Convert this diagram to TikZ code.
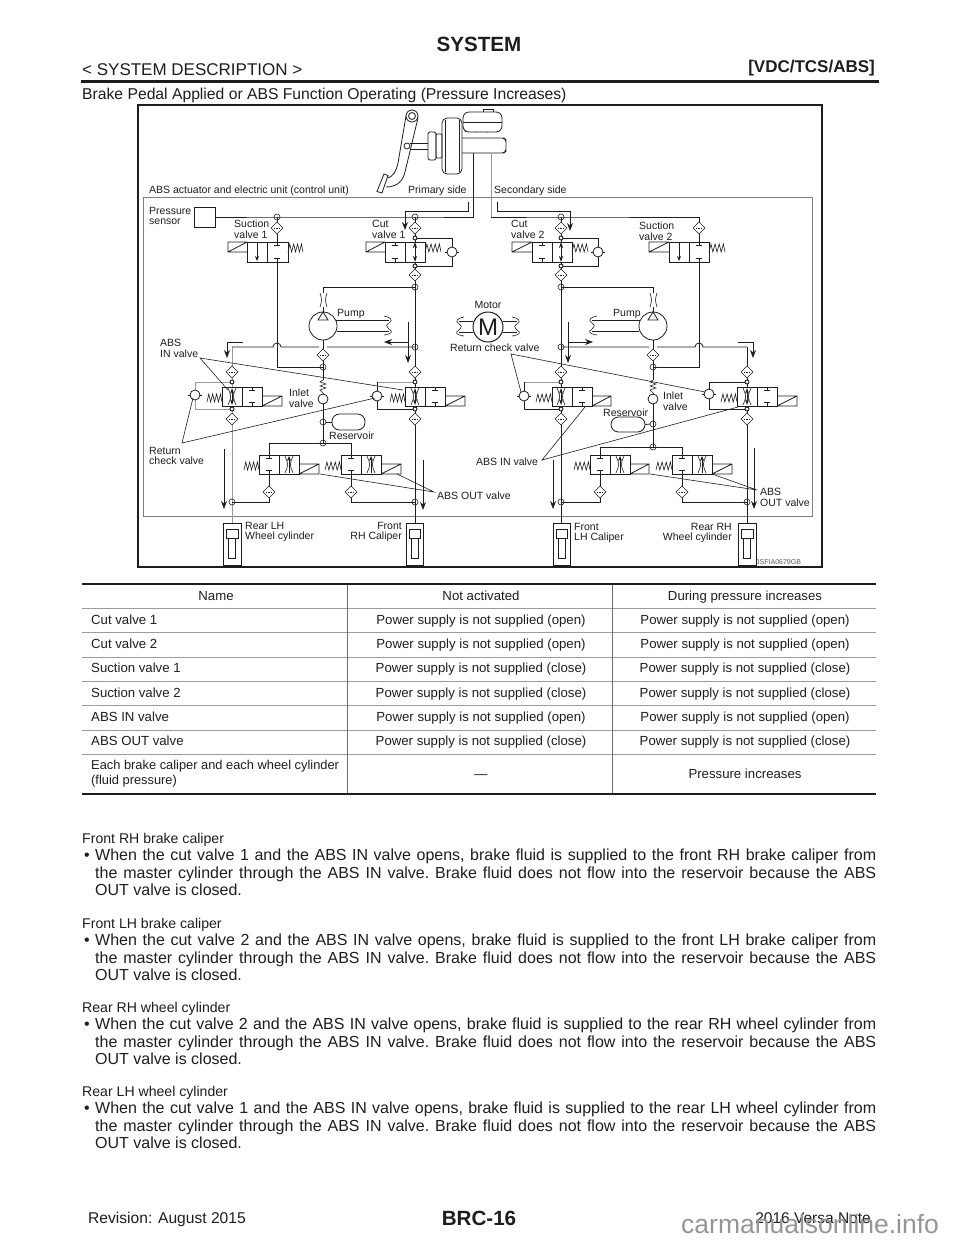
\documentclass[tikz,border=0pt]{standalone}
\usepackage{fontspec}
\setmainfont{Liberation Sans}
\usetikzlibrary{arrows.meta}
\definecolor{ink}{HTML}{1E1E1E}
\definecolor{pipegray}{HTML}{9A9A9A}
\definecolor{rulegray}{HTML}{9C9C9C}
\definecolor{wm}{HTML}{969696}
\tikzset{
  pipe/.style={line width=0.8pt,draw=ink},
  lpipe/.style={line width=0.8pt,draw=pipegray},
  thin part/.style={line width=0.6pt,draw=ink},
  leader/.style={line width=0.6pt,draw=ink},
  flow/.style={line width=0.9pt,draw=ink,-{Stealth[length=8pt,width=6pt]}},
  lbl/.style={inner sep=0pt,text=ink,font=\fontsize{10.5}{10.5}\selectfont},
  pg/.style={inner sep=0pt,text=ink,anchor=base west},
  tcell/.style={inner sep=0pt,text=ink,anchor=base,font=\fontsize{13.2}{15}\selectfont},
  tleft/.style={inner sep=0pt,text=ink,anchor=base west,font=\fontsize{13.2}{15}\selectfont},
  trow/.style={line width=1pt,draw=rulegray},
  trule/.style={line width=2pt,draw=ink}
}
\newcommand\vlvBox[5]{\draw[pipe,fill=white] (#1,#4) rectangle (#2,#5); \draw[pipe] (#3,#4) -- (#3,#5);}
\newcommand\vlvDiam[2]{\draw[thin part,fill=white] ({#1-6},#2) -- (#1,{#2-6}) -- ({#1+6},#2) -- (#1,{#2+6}) -- cycle;
  \draw[line width=0.5pt,draw=ink,dash pattern=on 1.5pt off 1.2pt] ({#1-3.5},#2) -- ({#1+3.5},#2);}
\newcommand\vlvJ[2]{\draw[thin part] (#1,#2) circle[radius=3];}
\newcommand\vlvDot[2]{\draw[line width=0.9pt,draw=ink,fill=white] (#1,#2) circle[radius=2];}
\newcommand\vlvT[3]{\draw[pipe] (#1,#2) -- (#1,{#2+3.5}) ({#1-3},{#2+3.5}) -- ({#1+3},{#2+3.5});
  \draw[pipe] (#1,#3) -- (#1,{#3-3.5}) ({#1-3},{#3-3.5}) -- ({#1+3},{#3-3.5});}
\newcommand\vlvSolL[3]{\draw[pipe] (#2,#3) -- (#1,#3) -- (#1,{#3+10}) -- (#2,{#3+10}) (#1,{#3+10}) -- (#2,#3);}
\newcommand\vlvSolR[3]{\draw[pipe] (#1,#3) -- (#2,#3) -- (#2,{#3+10}) -- (#1,{#3+10}) (#1,{#3+10}) -- (#2,#3);}
\newcommand\vlvSpr[3]{\draw[thin part] (#1,{#3+4}) -- ({#1+(#2-#1)*0.12},{#3-4}) -- ({#1+(#2-#1)*0.24},{#3+4}) -- ({#1+(#2-#1)*0.38},{#3-4}) -- ({#1+(#2-#1)*0.50},{#3+4}) -- ({#1+(#2-#1)*0.64},{#3-4}) -- ({#1+(#2-#1)*0.76},{#3+4}) -- ({#1+(#2-#1)*0.90},{#3-4}) -- (#2,{#3+4});}
\newcommand\vlvCk[2]{\draw[pipe,fill=white] (#1,#2) circle[radius=5];
  \draw[pipe] ({#1-7},#2) -- ({#1-5},#2) ({#1+5},#2) -- ({#1+7},#2);}
\newcommand\vlvNoz[4]{\draw[thin part] ({#1-4},{#2+1}) .. controls ({#1-0.5},{(#2+#3)/2}) .. ({#1-4},{#3-1});
  \draw[thin part] ({#1+4},{#2+1}) .. controls ({#1+0.5},{(#2+#3)/2}) .. ({#1+4},{#3-1});
  \draw[pipe,#4] (#1,{#3-1}) -- (#1,{#2+1});}
\newcommand\vlvWav[4]{\draw[thin part] ({#1-#4*5},{#2-4}) .. controls ({#1+#4*1},{#2-3}) and ({#1+#4*5},{#2}) .. (#1,{#2+3}) .. controls ({#1-#4*3},{(#2+#3)/2}) .. (#1,{#3-2}) .. controls ({#1+#4*5},{#3+1}) and ({#1+#4*2},{#3+3}) .. ({#1-#4*5},{#3+4});}
\newcommand\vlvCyl[3]{% name, left x, right x
  \node[draw=ink,line width=0.7pt,fill=white,inner sep=0pt,minimum width={(#3-#2)*1pt},minimum height=42pt] (#1) at ({(#2+#3)/2},544) {};
  \draw[pipe,fill=white] ({#2+3},529) rectangle ({#3-3},538);
  \draw[pipe] ({(#2+#3)/2-3.5},538) rectangle ({(#2+#3)/2+3.5},558);}
\newcommand\bodyblk[6]{%
  \node[pg,font=\fontsize{14.1}{16}\selectfont] (#1c) at (82,#2) {#3};
  \node[pg,font=\fontsize{16}{18}\selectfont] (#1b) at (84,{#2+17}) {•};
  \node[pg,font=\fontsize{16}{18}\selectfont] (#1x) at (95,{#2+17}) {\frenchspacing\hbox to 781pt{#4}};
  \node[pg,font=\fontsize{16}{18}\selectfont] (#1y) at (95,{#2+35}) {\frenchspacing\hbox to 781pt{#5}};
  \node[pg,font=\fontsize{16}{18}\selectfont] (#1z) at (95,{#2+52}) {#6};}
\begin{document}
\begin{tikzpicture}[x=1pt,y=-1pt]
\useasboundingbox[fill=white] (0,0) rectangle (960,1242);
% ---------- page header
\node[inner sep=0pt,anchor=base,text=ink,font=\bfseries\fontsize{20.6}{22}\selectfont] (htitle) at (479,51) {SYSTEM};
\node[pg,font=\fontsize{17}{18}\selectfont] (hleft) at (82,75) {< SYSTEM DESCRIPTION >};
\node[inner sep=0pt,anchor=base east,text=ink,font=\bfseries\fontsize{17}{18}\selectfont] (hright) at (875,72) {[VDC/TCS/ABS]};
\draw[line width=2.6pt,draw=ink] (81,81.5) -- (879,81.5);
\node[pg,font=\fontsize{15.7}{17}\selectfont] (hsub) at (82,99) {Brake Pedal Applied or ABS Function Operating (Pressure Increases)};
% ---------- frames
\draw[line width=1.8pt,draw=ink] (138,105) rectangle (822,567);
\draw[line width=0.8pt,draw=gray] (143,197) rectangle (812,516);
% ---------- pedal and master cylinder
\draw[pipe,line join=round] (406,116) -- (398,163) .. controls (396,172) and (393,176) .. (388,178);
\draw[pipe,line join=round] (418,118) -- (405,172) .. controls (403,180) and (398,187) .. (386,187);
\draw[pipe,fill=white] (412,116) circle[radius=6];
\draw[pipe,fill=white] (412,116) circle[radius=3.5];
\draw[pipe,fill=white] (384,174) -- (388,175.5) -- (382,193) -- (377,191.5) -- cycle;
\draw[thin part] (410,143) -- (428,143) (410,149) -- (428,149);
\draw[pipe,fill=white] (407,146) circle[radius=3];
\draw[pipe,rounded corners=1.5pt] (428,132) rectangle (436,160);
\draw[pipe,rounded corners=1pt] (436,134) rectangle (442,158);
\draw[pipe,rounded corners=5pt] (442,118) rectangle (462,174);
\draw[thin part] (445,120) -- (445,172) (459,120) -- (459,172);
\draw[pipe,rounded corners=2pt] (462,138) -- (504,138) -- (506,140) -- (506,151) -- (504,153) -- (462,153);
\draw[pipe,fill=white] (465,132) arc[start angle=180,end angle=360,radius=5.5] arc[start angle=180,end angle=360,radius=5.5] arc[start angle=180,end angle=360,radius=5.5];
\draw[pipe,fill=white] (483,112) -- (483,109) -- (493,109) -- (493,112);
\draw[pipe,fill=white,rounded corners=6pt] (463,132) -- (463,112) -- (502,112) -- (502,132) -- cycle;
\draw[pipe] (463,122) -- (502,122);
% ---------- coordinates of the junctions
\coordinate (mcL) at (473,153);
\coordinate (mcR) at (491,153);
\coordinate (tL) at (473,217);
\coordinate (tR) at (491,217);
\coordinate (jS1) at (277,217);
\coordinate (jC1) at (415,217);
\coordinate (jC2) at (561,217);
\coordinate (jS2) at (699,217);
% ---------- pipes
\node[draw=ink,line width=0.8pt,inner sep=0pt,minimum width=21pt,minimum height=20pt] (psens) at (204.5,217) {};
\draw[pipe] (psens.east) -- (jS1) -- (jC1) -- (tL) -- (mcL);
\draw[lpipe] (mcR) -- (tR);
\draw[pipe] (tR) -- (jC2) -- (jS2) -- (699,242);
\draw[pipe] (jS1) -- (277,242);
\draw[pipe] (jC1) -- (415,242);
\draw[pipe] (jC2) -- (561,242);
% primary/secondary pointers
\draw[flow] (468,202) -- (468,211) -- (405,211) -- (405,230);
\draw[flow] (497,202) -- (497,211) -- (570,211) -- (570,231);
% bypasses of the cut valves
\draw[pipe] (415,238) -- (452,238) -- (452,266) -- (415,266);
\draw[pipe] (561,238) -- (598,238) -- (598,266) -- (561,266);
% trunks
\draw[pipe] (415,262) -- (415,387) (415,406) -- (415,523);
\draw[pipe] (561,262) -- (561,387) (561,406) -- (561,523);
\draw[lpipe] (232,347) -- (232,387) (232,406) -- (232,523);
\draw[pipe] (747,347) -- (747,387) (747,406) -- (747,523);
% suction return pipes
\draw[pipe] (277,262) -- (277,367) -- (323,367);
\draw[pipe] (699,262) -- (699,367) -- (653,367);
% return lines with hops
\draw[pipe] (415,347) -- (327,347) (319,347) -- (281,347) arc[start angle=360,end angle=180,radius=4] -- (232,347);
\draw[pipe] (561,347) -- (649,347) (657,347) -- (695,347) arc[start angle=180,end angle=360,radius=4] -- (747,347);
% pump feeds
\draw[thin part] (415,287) -- (323,287) -- (323,293);
\draw[thin part] (561,287) -- (653,287) -- (653,293);
\draw[thin part] (323,307) -- (323,312);
\draw[thin part] (653,307) -- (653,312);
% pump discharge and centre lines
\draw[pipe] (323,340) -- (323,380) (323,393) -- (323,443);
\draw[pipe] (653,340) -- (653,380) (653,393) -- (653,447);
% bypasses of the IN valves
\draw[lpipe] (232,382) -- (195,382) -- (195,409) -- (232,409);
\draw[lpipe] (415,382) -- (377,382);
\draw[pipe] (377,382) -- (377,409) -- (415,409);
\draw[lpipe] (561,382) -- (524,382);
\draw[pipe] (524,382) -- (524,409) -- (561,409);
\draw[pipe] (747,382) -- (709,382) -- (709,409) -- (747,409);
% out valve piping
\draw[pipe] (269,455) -- (269,443) -- (351,443) -- (351,455);
\draw[pipe] (600,455) -- (600,447) -- (682,447) -- (682,455);
\draw[pipe] (269,474) -- (269,502) -- (232,502);
\draw[pipe] (351,474) -- (351,502) -- (415,502);
\draw[pipe] (600,474) -- (600,502) -- (561,502);
\draw[pipe] (682,474) -- (682,502) -- (747,502);
% ---------- suction and cut valves
\vlvBox{247}{288}{267}{242}{262}\vlvSolL{228}{247}{242}\vlvSpr{288}{303}{248}
\vlvT{277}{242}{262}\draw[pipe,-{Stealth[length=5pt,width=4pt]}] (257,243) -- (257,261);
\vlvBox{385}{425}{405}{242}{262}\vlvSolL{366}{385}{242}\vlvSpr{425}{441}{248}
\vlvT{395}{242}{262}\draw[pipe,{Stealth[length=6pt,width=4pt]}-{Stealth[length=6pt,width=4pt]}] (415,242) -- (415,262);
\vlvBox{532}{572}{552}{242}{262}\vlvSolL{512}{532}{242}\vlvSpr{572}{588}{248}
\vlvT{542}{242}{262}\draw[pipe,{Stealth[length=6pt,width=4pt]}-{Stealth[length=6pt,width=4pt]}] (561,242) -- (561,262);
\vlvBox{669}{709}{689}{242}{262}\vlvSolL{649}{669}{242}\vlvSpr{709}{725}{248}
\vlvT{699}{242}{262}\draw[pipe,-{Stealth[length=5pt,width=4pt]}] (679,243) -- (679,261);
\vlvCk{452}{252}\vlvCk{598}{252}
% ---------- filters and junctions, upper part
\vlvJ{277}{217}\vlvJ{415}{217}\vlvJ{561}{217}
\vlvDiam{277}{228}\vlvDiam{415}{228}\vlvDiam{561}{228}\vlvDiam{699}{228}
\vlvDot{415}{238}\vlvDot{415}{266}\vlvDot{561}{238}\vlvDot{561}{266}
\vlvDiam{415}{275}\vlvDiam{561}{275}
\vlvJ{415}{287}\vlvJ{561}{287}
% ---------- pumps
\draw[pipe] (323,326) circle[radius=14]; \draw[pipe,fill=white] (323,312) -- (328,320) -- (318,320) -- cycle;
\draw[pipe] (653,326) circle[radius=14]; \draw[pipe,fill=white] (653,312) -- (658,320) -- (648,320) -- cycle;
\draw[thin part] (320,293) .. controls (322,300) .. (320,307) (327,293) .. controls (325,300) .. (327,307);
\draw[thin part] (650,293) .. controls (652,300) .. (650,307) (657,293) .. controls (655,300) .. (657,307);
\draw[pipe] (336,320) -- (389,320) (337,331) -- (389,331);
\draw[pipe] (640,320) -- (592,320) (639,331) -- (592,331);
\vlvWav{389}{320}{331}{1}\vlvWav{592}{320}{331}{-1}
% ---------- motor
\node[draw=ink,line width=1pt,circle,minimum size=30pt,inner sep=0pt,text=ink,font=\fontsize{24}{24}\selectfont] (motor) at (488,327) {M};
\draw[pipe] (473,321) -- (459,321) (473,332) -- (459,332) (503,321) -- (517,321) (503,332) -- (517,332);
\vlvWav{459}{321}{332}{-1}\vlvWav{517}{321}{332}{1}
% flow arrows
\draw[flow] (408,322) -- (408,363);
\draw[flow] (408,342) -- (384,342);
\draw[flow] (568,322) -- (568,363);
\draw[flow] (568,342) -- (593,342);
\draw[flow] (243,342) -- (227,342) -- (227,358);
\draw[flow] (738,342) -- (753,342) -- (753,358);
\draw[flow] (224,449) -- (224,509);
\draw[flow] (423,460) -- (423,510);
\draw[flow] (553,460) -- (553,509);
\draw[flow] (754,448) -- (754,509);
% ---------- filters, lower part
\vlvJ{415}{347}\vlvJ{561}{347}
\vlvDiam{323}{355}\vlvDiam{653}{355}\vlvJ{323}{367}\vlvJ{653}{367}
\foreach \xx in {232,415,561,747}{\vlvDiam{\xx}{372}\vlvDiam{\xx}{419}\vlvDot{\xx}{382}\vlvDot{\xx}{409}}
% ---------- ABS IN valves
\vlvBox{222}{262}{242}{387}{406}\vlvSolR{262}{282}{396}\vlvSpr{207}{222}{398}
\vlvT{252}{387}{406}\vlvNoz{232}{387}{406}{{Stealth[length=6pt,width=4pt]}-{Stealth[length=6pt,width=4pt]}}
\vlvBox{405}{445}{425}{387}{406}\vlvSolR{445}{465}{396}\vlvSpr{390}{405}{398}
\vlvT{435}{387}{406}\vlvNoz{415}{387}{406}{{Stealth[length=6pt,width=4pt]}-{Stealth[length=6pt,width=4pt]}}
\vlvBox{552}{592}{572}{387}{406}\vlvSolR{592}{611}{396}\vlvSpr{536}{552}{398}
\vlvT{582}{387}{406}\vlvNoz{561}{387}{406}{{Stealth[length=6pt,width=4pt]}-{Stealth[length=6pt,width=4pt]}}
\vlvBox{737}{777}{757}{387}{406}\vlvSolR{777}{797}{396}\vlvSpr{721}{737}{398}
\vlvT{767}{387}{406}\vlvNoz{747}{387}{406}{{Stealth[length=6pt,width=4pt]}-{Stealth[length=6pt,width=4pt]}}
\vlvCk{195}{395}\vlvCk{377}{396}\vlvCk{524}{396}\vlvCk{709}{394}
% ---------- inlet valves and reservoirs
\draw[thin part] (323,380) -- (320,382) -- (326,384) -- (320,386) -- (326,388) -- (320,390) -- (323,393);
\draw[thin part] (653,380) -- (650,382) -- (656,384) -- (650,386) -- (656,388) -- (650,390) -- (653,393);
\draw[pipe,fill=white] (323,399) circle[radius=5];
\draw[pipe,fill=white] (653,399) circle[radius=5];
\vlvJ{323}{422}\vlvJ{653}{424}\vlvJ{323}{443}\vlvJ{653}{447}
\node[draw=ink,line width=0.8pt,rounded corners=7.5pt,minimum width=33pt,minimum height=16pt,inner sep=0pt] (resL) at (348.5,422) {};
\node[draw=ink,line width=0.8pt,rounded corners=7.5pt,minimum width=34pt,minimum height=15pt,inner sep=0pt] (resR) at (628,424.5) {};
\draw[pipe] (326,422) -- (resL.west);
\draw[pipe] (resR.east) -- (650,424);
% ---------- ABS OUT valves
\vlvBox{259}{299}{279}{455}{474}\vlvSolR{299}{319}{464}\vlvSpr{244}{259}{466}\vlvT{269}{455}{474}\vlvNoz{289}{455}{474}{-{Stealth[length=5pt,width=4pt]}}
\vlvBox{341}{381}{361}{455}{474}\vlvSolR{381}{401}{464}\vlvSpr{325}{341}{466}\vlvT{351}{455}{474}\vlvNoz{371}{455}{474}{-{Stealth[length=5pt,width=4pt]}}
\vlvBox{590}{630}{610}{455}{474}\vlvSolR{630}{649}{464}\vlvSpr{574}{590}{466}\vlvT{600}{455}{474}\vlvNoz{620}{455}{474}{-{Stealth[length=5pt,width=4pt]}}
\vlvBox{672}{712}{692}{455}{474}\vlvSolR{712}{732}{464}\vlvSpr{656}{672}{466}\vlvT{682}{455}{474}\vlvNoz{702}{455}{474}{-{Stealth[length=5pt,width=4pt]}}
\vlvDiam{269}{492}\vlvDiam{351}{492}\vlvDiam{600}{492}\vlvDiam{682}{492}
\vlvJ{232}{502}\vlvJ{415}{502}\vlvJ{561}{502}\vlvJ{747}{502}
% ---------- wheel cylinders
\vlvCyl{cylRL}{223}{241}\vlvCyl{cylFR}{406}{423}\vlvCyl{cylFL}{553}{570}\vlvCyl{cylRR}{738}{756}
% ---------- leaders
\coordinate (ldA) at (200,358);
\draw[leader] (228,390) -- (ldA) -- (403,390);
\coordinate (ldB) at (182,443);
\draw[leader] (193,398) -- (ldB) -- (375,398);
\coordinate (ldC) at (434,492);
\draw[leader] (397,474) -- (ldC) -- (320,474);
\coordinate (ldD) at (511,354);
\draw[leader] (521,392) -- (ldD) -- (705,392);
\coordinate (ldE) at (542,460);
\draw[leader] (585,407) -- (ldE) -- (738,407);
\coordinate (ldF) at (757,490);
\draw[leader] (650,474) -- (ldF) -- (712,474);
% ---------- diagram labels
\node[lbl,anchor=base west] (lAct) at (149,193) {ABS actuator and electric unit (control unit)};
\node[lbl,anchor=base west] (lPri) at (408,193) {Primary side};
\node[lbl,anchor=base west] (lSec) at (494,193) {Secondary side};
\node[lbl,anchor=north west,align=left] (lPS) at (149,207) {Pressure\\sensor};
\node[lbl,anchor=north west,align=left] (lS1) at (234,220) {Suction\\valve 1};
\node[lbl,anchor=north west,align=left] (lC1) at (372,220) {Cut\\valve 1};
\node[lbl,anchor=north west,align=left] (lC2) at (511,220) {Cut\\valve 2};
\node[lbl,anchor=north west,align=left] (lS2) at (639,222) {Suction\\valve 2};
\node[lbl,anchor=base west] (lP1) at (337,316) {Pump};
\node[lbl,anchor=base west] (lP2) at (613,316) {Pump};
\node[lbl,anchor=base] (lM) at (488,308) {Motor};
\node[lbl,anchor=base west] (lRC) at (450,351) {Return check valve};
\node[lbl,anchor=north west,align=left] (lAI) at (160,339) {ABS\\IN valve};
\node[lbl,anchor=north west,align=left] (lRCL) at (149,447) {Return\\check valve};
\node[lbl,anchor=north west,align=left] (lIn1) at (289,389) {Inlet\\valve};
\node[lbl,anchor=north west,align=left] (lIn2) at (663,392) {Inlet\\valve};
\node[lbl,anchor=base west] (lRes1) at (329,439) {Reservoir};
\node[lbl,anchor=base west] (lRes2) at (603,416) {Reservoir};
\node[lbl,anchor=base west] (lAO) at (437,499) {ABS OUT valve};
\node[lbl,anchor=base west] (lAI2) at (476,465) {ABS IN valve};
\node[lbl,anchor=north west,align=left] (lAO2) at (760,488) {ABS\\OUT valve};
\node[lbl,anchor=north west,align=left] (lRL) at (245,522) {Rear LH\\Wheel cylinder};
\node[lbl,anchor=north east,align=right] (lFR) at (402,522) {Front\\RH Caliper};
\node[lbl,anchor=north west,align=left] (lFL) at (574,523) {Front\\LH Caliper};
\node[lbl,anchor=north east,align=right] (lRR) at (732,523) {Rear RH\\Wheel cylinder};
\node[inner sep=0pt,anchor=base west,text=ink!75,font=\fontsize{7}{8}\selectfont] (lId) at (756,564) {JSFIA0679GB};
% ---------- table
\foreach \yy in {608,632.5,657,681,705,730,754}{\draw[trow] (82,\yy) -- (876,\yy);}
\draw[line width=0.6pt,draw=rulegray!70!black] (347,584) -- (347,794) (612,584) -- (612,794);
\draw[trule] (82,584) -- (876,584);
\draw[trule] (82,794) -- (876,794);
\node[tcell] (th1) at (216,600) {Name};
\node[tcell] (th2) at (481,600) {Not activated};
\node[tcell] (th3) at (745,600) {During pressure increases};
\foreach \n/\yy/\nm/\a/\b in {
 1/624/{Cut valve 1}/{Power supply is not supplied (open)}/{Power supply is not supplied (open)},
 2/648.5/{Cut valve 2}/{Power supply is not supplied (open)}/{Power supply is not supplied (open)},
 3/672.5/{Suction valve 1}/{Power supply is not supplied (close)}/{Power supply is not supplied (close)},
 4/697/{Suction valve 2}/{Power supply is not supplied (close)}/{Power supply is not supplied (close)},
 5/721/{ABS IN valve}/{Power supply is not supplied (open)}/{Power supply is not supplied (open)},
 6/745.5/{ABS OUT valve}/{Power supply is not supplied (close)}/{Power supply is not supplied (close)}}{
  \node[tleft] (r\n a) at (91,\yy) {\nm};
  \node[tcell] (r\n b) at (481,\yy) {\a};
  \node[tcell] (r\n c) at (745,\yy) {\b};
}
\node[tleft,align=left,anchor=north west,font=\fontsize{12.85}{15}\selectfont] (r7a) at (91,759.5) {Each brake caliper and each wheel cylinder\\(fluid pressure)};
\node[tcell] (r7b) at (481,778) {—};
\node[tcell] (r7c) at (745,778) {Pressure increases};
% ---------- body text
\bodyblk{fr}{843}{Front RH brake caliper}{When the cut valve 1 and the ABS IN valve opens, brake fluid is supplied to the front RH brake caliper from}{the master cylinder through the ABS IN valve. Brake fluid does not flow into the reservoir because the ABS}{OUT valve is closed.}
\bodyblk{fl}{928}{Front LH brake caliper}{When the cut valve 2 and the ABS IN valve opens, brake fluid is supplied to the front LH brake caliper from}{the master cylinder through the ABS IN valve. Brake fluid does not flow into the reservoir because the ABS}{OUT valve is closed.}
\bodyblk{rr}{1012}{Rear RH wheel cylinder}{When the cut valve 2 and the ABS IN valve opens, brake fluid is supplied to the rear RH wheel cylinder from}{the master cylinder through the ABS IN valve. Brake fluid does not flow into the reservoir because the ABS}{OUT valve is closed.}
\bodyblk{rl}{1096}{Rear LH wheel cylinder}{When the cut valve 1 and the ABS IN valve opens, brake fluid is supplied to the rear LH wheel cylinder from}{the master cylinder through the ABS IN valve. Brake fluid does not flow into the reservoir because the ABS}{OUT valve is closed.}
% ---------- footer
\node[pg,font=\fontsize{15.6}{17}\selectfont] (fleft) at (88,1223) {Revision: August 2015};
\node[inner sep=0pt,anchor=base,text=ink,font=\bfseries\fontsize{20.6}{22}\selectfont] (fmid) at (479,1225) {BRC-16};
\node[inner sep=0pt,anchor=base east,text=ink,font=\fontsize{15.5}{17}\selectfont] (fright) at (871,1223) {2016 Versa Note};
\node[inner sep=0pt,anchor=base west,text=wm,font=\fontsize{26.5}{28}\selectfont] (fwm) at (681,1233) {carmanualsonline.info};
\end{tikzpicture}
\end{document}
